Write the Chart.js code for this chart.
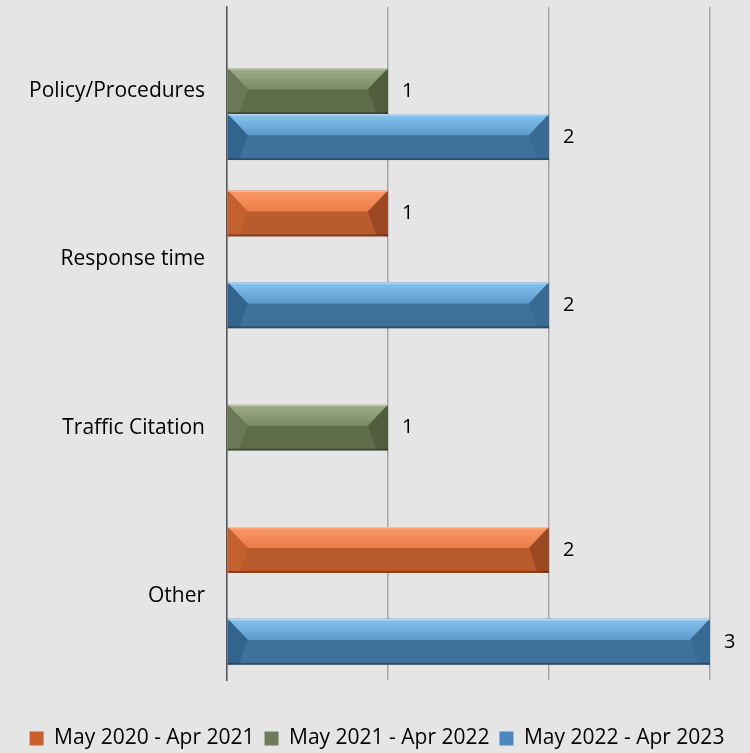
<!DOCTYPE html>
<html>
<head>
<meta charset="utf-8">
<script src="https://cdn.jsdelivr.net/npm/chart.js@4/dist/chart.umd.min.js"></script>
<style>
html,body{margin:0;padding:0;background:#e5e5e5;}
#wrap{width:750px;height:753px;position:relative;}
</style>
</head>
<body>
<div id="wrap"><canvas id="c" width="750" height="753"></canvas></div>
<script>
const categories = ["Policy/Procedures", "Response time", "Traffic Citation", "Other"];
const seriesNames = ["May 2020 - Apr 2021", "May 2021 - Apr 2022", "May 2022 - Apr 2023"];
const s2020 = [null, 1, null, 2];
const s2021 = [1, null, 1, null];
const s2022 = [2, 2, null, 3];
const xTicks = [0, 1, 2, 3];

const palette = [
  {top:'#fb9868', mid:'#ea7d4a', main:'#b95c2d', left:'#c4622f', right:'#9c4822', legend:'#c8602e'},
  {top:'#9fad8b', mid:'#7c8b66', main:'#5f6c4a', left:'#6a7955', right:'#515d3c', legend:'#6d7b58'},
  {top:'#88c4f0', mid:'#5c9acc', main:'#3f719a', left:'#32648e', right:'#386b94', legend:'#4a88bd'}
];

const FONT = "'Open Sans'";

const bevelPlugin = {
  id: 'bevel',
  afterDatasetsDraw(chart){
    const ctx = chart.ctx;
    chart.data.datasets.forEach((ds, i) => {
      const meta = chart.getDatasetMeta(i);
      meta.data.forEach((el, j) => {
        if (ds.data[j] === null) return;
        const x0 = el.base, x1 = el.x, h = el.height;
        const t = el.y - h/2, b = el.y + h/2, m = el.y - h*0.04;
        const bv = Math.min(20, h*0.45);
        const p = palette[i];
        ctx.save();
        const g = ctx.createLinearGradient(0, t, 0, m);
        g.addColorStop(0, p.top); g.addColorStop(1, p.mid);
        ctx.fillStyle = g;
        ctx.beginPath();
        ctx.moveTo(x0, t); ctx.lineTo(x1, t); ctx.lineTo(x1-bv, m); ctx.lineTo(x0+bv, m); ctx.closePath(); ctx.fill();
        ctx.fillStyle = p.left;
        ctx.beginPath();
        ctx.moveTo(x0, t); ctx.lineTo(x0+bv, m); ctx.lineTo(x0+bv*0.6, b-2); ctx.lineTo(x0, b); ctx.closePath(); ctx.fill();
        ctx.fillStyle = p.right;
        ctx.beginPath();
        ctx.moveTo(x1, t); ctx.lineTo(x1-bv, m); ctx.lineTo(x1-bv*0.6, b-2); ctx.lineTo(x1, b); ctx.closePath(); ctx.fill();
        ctx.globalAlpha = 0.35;
        ctx.fillStyle = '#ffffff';
        ctx.fillRect(x0, t, x1-x0, 1.5);
        ctx.globalAlpha = 0.3;
        ctx.fillStyle = '#000000';
        ctx.fillRect(x0, b-2, x1-x0, 2);
        ctx.restore();
        ctx.save();
        ctx.fillStyle = '#000';
        ctx.font = '20px ' + FONT;
        ctx.textBaseline = 'middle';
        ctx.textAlign = 'left';
        ctx.fillText(String(ds.data[j]), x1 + 14, el.y);
        ctx.restore();
      });
    });
  }
};

const dataArrays = [s2020, s2021, s2022];
new Chart(document.getElementById('c'), {
  type: 'bar',
  data: {
    labels: categories,
    datasets: dataArrays.map((d, i) => ({
      label: seriesNames[i],
      data: d,
      backgroundColor: palette[i].main,
      borderWidth: 0,
      barPercentage: 1.0,
      categoryPercentage: 0.82
    }))
  },
  options: {
    indexAxis: 'y',
    responsive: false,
    animation: false,
    layout: { padding: { top: 7, right: 0, left: 4, bottom: -6 } },
    scales: {
      x: {
        min: 0, max: 3,
        afterBuildTicks(axis){ axis.ticks = xTicks.map(v => ({value: v})); },
        afterFit(axis){ axis.height = 38; },
        ticks: { display: false },
        grid: { color: '#a6a6a6', lineWidth: 1.5, drawTicks: false },
        border: { display: false }
      },
      y: {
        afterFit(axis){ axis.width = 223; },
        grid: { display: true, drawOnChartArea: false, drawTicks: true, tickLength: 22, tickColor: 'rgba(0,0,0,0)' },
        border: { display: true, color: '#595959', width: 1.5 },
        ticks: { color: '#000', font: { family: FONT, size: 21, lineHeight: 0.55 }, padding: 0 }
      },
      yRight: {
        type: 'category',
        position: 'right',
        afterFit(axis){ axis.width = 40; },
        grid: { display: false, drawTicks: false },
        border: { display: false },
        ticks: { display: false }
      }
    },
    plugins: {
      legend: {
        position: 'bottom',
        labels: {
          color: '#000',
          font: { family: FONT, size: 21 },
          boxWidth: 14, boxHeight: 14,
          padding: 10,
          generateLabels(chart){
            return seriesNames.map((n, i) => ({
              text: n, fillStyle: palette[i].legend, strokeStyle: palette[i].legend,
              lineWidth: 0, hidden: false, datasetIndex: i
            }));
          }
        }
      },
      tooltip: { enabled: false }
    }
  },
  plugins: [bevelPlugin]
});
</script>
</body>
</html>
